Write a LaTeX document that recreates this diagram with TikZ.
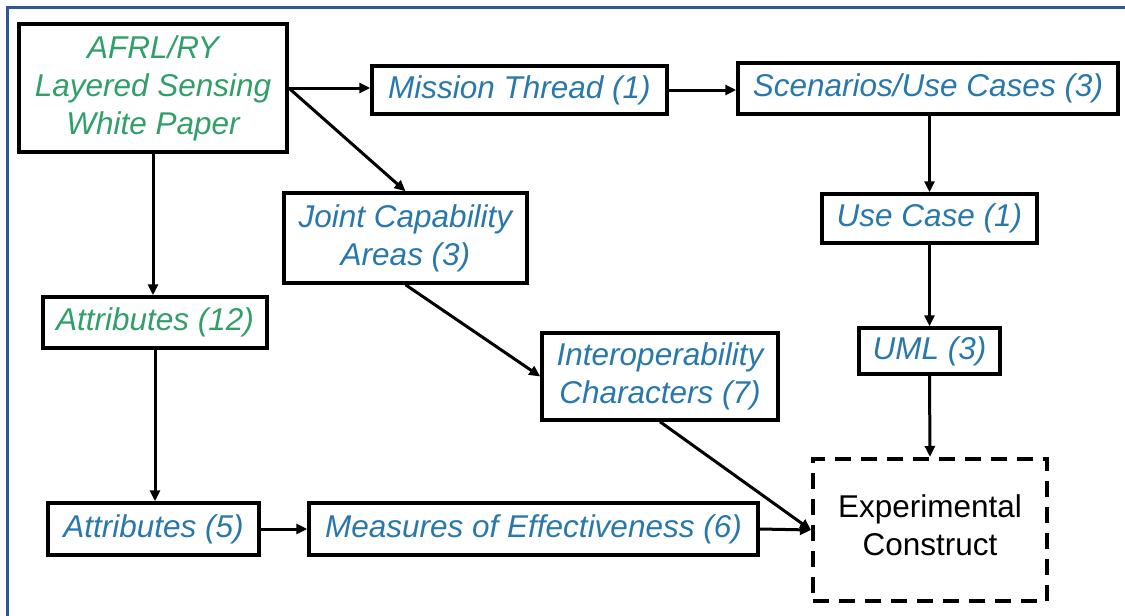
\documentclass[tikz,border=0pt]{standalone}
\usepackage{fontspec}
\setmainfont{Liberation Sans}
\usetikzlibrary{arrows.meta}
\definecolor{txtgreen}{RGB}{48,160,104}
\definecolor{txtblue}{RGB}{40,120,172}
\definecolor{frameblue}{RGB}{47,85,151}
\tikzset{
  boxnode/.style={draw=black, line width=3.5pt, inner sep=0pt, align=center,
    font=\fontsize{31.5}{38}\selectfont\itshape, text=txtblue},
  greenbox/.style={boxnode, text=txtgreen},
  dashbox/.style={draw=black, line width=4pt, dash pattern=on 16pt off 10pt, inner sep=0pt,
    align=center, font=\fontsize{31.5}{38}\selectfont, text=black},
  conn/.style={draw=black, line width=3pt, -{Triangle[length=11pt,width=10pt]}},
}
\begin{document}
\begin{tikzpicture}[x=1pt,y=-1pt]
\useasboundingbox (0,0) rectangle (1125,616);
\fill[white] (0,0) rectangle (1125,616);
\draw[frameblue, line width=3pt] (7,616) -- (7,7) -- (1125,7);

\node[greenbox, minimum width=268pt, minimum height=128pt] (afrl) at (153,88) {AFRL/RY\\Layered Sensing\\White Paper};
\node[boxnode, minimum width=295pt, minimum height=48pt] (mission) at (519.5,90) {Mission Thread (1)};
\node[boxnode, minimum width=380pt, minimum height=51pt] (scen) at (928,88.5) {Scenarios/Use Cases (3)};
\node[boxnode, minimum width=243pt, minimum height=90pt] (joint) at (405.5,238) {Joint Capability\\Areas (3)};
\node[boxnode, minimum width=215pt, minimum height=49pt] (usecase) at (929.5,218.5) {Use Case (1)};
\node[greenbox, minimum width=224pt, minimum height=51pt] (attr12) at (155,322.5) {Attributes (12)};
\node[boxnode, minimum width=236pt, minimum height=87pt] (interop) at (660,376.5) {Interoperability\\Characters (7)};
\node[boxnode, minimum width=141pt, minimum height=46pt] (uml) at (929.5,351) {UML (3)};
\node[dashbox, minimum width=234pt, minimum height=142pt] (exp) at (930,530) {};
\node[font=\fontsize{31.5}{38}\selectfont, align=center, inner sep=0pt] (explabel) at (930,525) {Experimental\\Construct};
\node[boxnode, minimum width=211pt, minimum height=52pt] (attr5) at (153.5,529) {Attributes (5)};
\node[boxnode, minimum width=449pt, minimum height=52pt] (moe) at (533.5,529) {Measures of Effectiveness (6)};

\draw[conn] (afrl.east) -- (afrl.east -| mission.west);
\draw[conn] (afrl.east) -- (joint.north);
\draw[conn] (afrl.south) -- (afrl.south |- attr12.north);
\draw[conn] (mission.east) -- (mission.east -| scen.west);
\draw[conn] (usecase.north |- scen.south) -- (usecase.north);
\draw[conn] (usecase.south) -- (uml.north);
\draw[conn] (uml.south) -- (exp.north);
\draw[conn] (joint.south) -- (interop.west);
\draw[conn] (interop.south) -- (exp.west);
\draw[conn] (attr12.south) -- (attr12.south |- attr5.north);
\draw[conn] (attr5.east) -- (moe.west);
\draw[conn] (moe.east) -- (exp.west);
\end{tikzpicture}
\end{document}
